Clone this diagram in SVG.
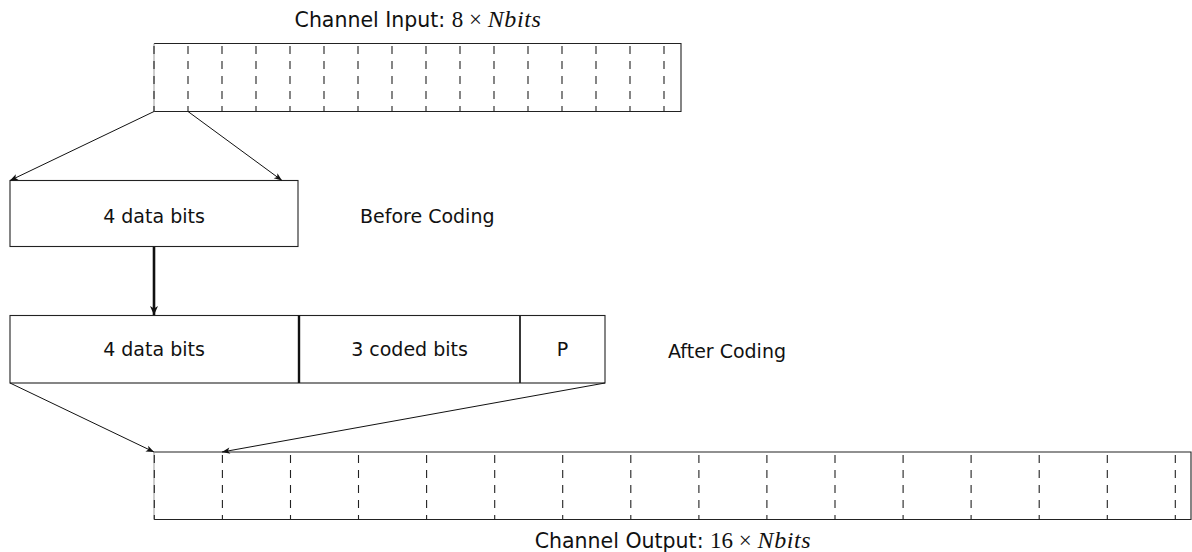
<svg xmlns="http://www.w3.org/2000/svg" width="1192" height="552" viewBox="0 0 1192 552">
<style>
.box{fill:#fff;stroke:#222;stroke-width:1.1}
.edge{fill:none;stroke:#222;stroke-width:1.1}
.ghost{stroke:#999;stroke-width:1}
.dash{stroke:#222;stroke-width:1.1;stroke-dasharray:8 7}
.t{font-family:"DejaVu Sans","Liberation Sans",sans-serif;font-size:19px;fill:#111}
.tt{font-family:"DejaVu Sans","Liberation Sans",sans-serif;font-size:20.5px;fill:#111}
.m{font-family:"Liberation Serif",serif;font-size:23px}
.mi{font-family:"Liberation Serif",serif;font-style:italic;font-size:24px;letter-spacing:0.6px}
.conn{fill:none;stroke:#111;stroke-width:1}
.thick{fill:none;stroke:#111;stroke-width:2.6}
</style>
<defs>
<marker id="arr" viewBox="-9 -4 10 8" refX="0" refY="0" markerWidth="10" markerHeight="8" markerUnits="userSpaceOnUse" orient="auto">
<path d="M0,0 L-8,-3.2 L-6,0 L-8,3.2 Z" fill="#111"/>
</marker>
<marker id="arrT" viewBox="-9 -4 10 8" refX="0" refY="0" markerWidth="10" markerHeight="8" markerUnits="userSpaceOnUse" orient="auto">
<path d="M0,0 L-9,-4 L-6.5,0 L-9,4 Z" fill="#111"/>
</marker>
</defs>

<g id="input">
<text class="tt" x="418" y="27" text-anchor="middle">Channel Input: <tspan class="m">8 × </tspan><tspan class="mi">Nbits</tspan></text>
<rect x="154" y="43.5" width="527" height="68" fill="#fff" stroke="none"/>
<path class="edge" d="M154,43.5 H681 V111.5 H154"/>
<line class="ghost" x1="154" y1="43.5" x2="154" y2="111.5"/>
<g>
<line class="dash" x1="154" y1="46" x2="154" y2="111.5"/>
<line class="dash" x1="188" y1="46" x2="188" y2="111.5"/>
<line class="dash" x1="222" y1="46" x2="222" y2="111.5"/>
<line class="dash" x1="256" y1="46" x2="256" y2="111.5"/>
<line class="dash" x1="290" y1="46" x2="290" y2="111.5"/>
<line class="dash" x1="324" y1="46" x2="324" y2="111.5"/>
<line class="dash" x1="358" y1="46" x2="358" y2="111.5"/>
<line class="dash" x1="392" y1="46" x2="392" y2="111.5"/>
<line class="dash" x1="426" y1="46" x2="426" y2="111.5"/>
<line class="dash" x1="460" y1="46" x2="460" y2="111.5"/>
<line class="dash" x1="494" y1="46" x2="494" y2="111.5"/>
<line class="dash" x1="528" y1="46" x2="528" y2="111.5"/>
<line class="dash" x1="562" y1="46" x2="562" y2="111.5"/>
<line class="dash" x1="596" y1="46" x2="596" y2="111.5"/>
<line class="dash" x1="630" y1="46" x2="630" y2="111.5"/>
<line class="dash" x1="664" y1="46" x2="664" y2="111.5"/>
</g>
</g>

<g id="before">
<rect class="box" x="10" y="180.5" width="288" height="66"/>
<text class="t" x="154" y="223" text-anchor="middle">4 data bits</text>
<text class="t" x="360" y="223">Before Coding</text>
</g>

<g id="after">
<rect class="box" x="10" y="315.5" width="595" height="67.5"/>
<line x1="299" y1="315.5" x2="299" y2="383" stroke="#111" stroke-width="2.4"/>
<line x1="520" y1="315.5" x2="520" y2="383" stroke="#222" stroke-width="1.8"/>
<text class="t" x="154" y="356" text-anchor="middle">4 data bits</text>
<text class="t" x="409.5" y="356" text-anchor="middle">3 coded bits</text>
<text class="t" x="562.5" y="356" text-anchor="middle">P</text>
<text class="t" x="668" y="358">After Coding</text>
</g>

<g id="output">
<rect x="154" y="452" width="1037" height="67.5" fill="#fff" stroke="none"/>
<path class="edge" d="M154,452 H1191 V519.5 H154" stroke-width="1.4" stroke="#444"/>
<line class="ghost" x1="154" y1="452" x2="154" y2="519.5"/>
<g>
<line class="dash" x1="154.3" y1="455" x2="154.3" y2="519.5"/>
<line class="dash" x1="222.4" y1="455" x2="222.4" y2="519.5"/>
<line class="dash" x1="290.5" y1="455" x2="290.5" y2="519.5"/>
<line class="dash" x1="358.5" y1="455" x2="358.5" y2="519.5"/>
<line class="dash" x1="426.6" y1="455" x2="426.6" y2="519.5"/>
<line class="dash" x1="494.7" y1="455" x2="494.7" y2="519.5"/>
<line class="dash" x1="562.7" y1="455" x2="562.7" y2="519.5"/>
<line class="dash" x1="630.8" y1="455" x2="630.8" y2="519.5"/>
<line class="dash" x1="698.9" y1="455" x2="698.9" y2="519.5"/>
<line class="dash" x1="766.9" y1="455" x2="766.9" y2="519.5"/>
<line class="dash" x1="835" y1="455" x2="835" y2="519.5"/>
<line class="dash" x1="903.1" y1="455" x2="903.1" y2="519.5"/>
<line class="dash" x1="971.1" y1="455" x2="971.1" y2="519.5"/>
<line class="dash" x1="1039.2" y1="455" x2="1039.2" y2="519.5"/>
<line class="dash" x1="1107.3" y1="455" x2="1107.3" y2="519.5"/>
<line class="dash" x1="1175.3" y1="455" x2="1175.3" y2="519.5"/>
</g>
<text class="tt" x="673" y="548" text-anchor="middle">Channel Output: <tspan class="m">16 × </tspan><tspan class="mi">Nbits</tspan></text>
</g>

<g id="connectors">
<line class="conn" x1="154" y1="111.5" x2="10" y2="180.5" marker-end="url(#arr)"/>
<line class="conn" x1="188" y1="111.5" x2="282" y2="180.5" marker-end="url(#arr)"/>
<line class="thick" x1="154" y1="247" x2="154" y2="315" marker-end="url(#arrT)"/>
<line class="conn" x1="10" y1="383" x2="154" y2="452" marker-end="url(#arr)"/>
<line class="conn" x1="605" y1="383" x2="222" y2="452" marker-end="url(#arr)"/>
</g>
</svg>
